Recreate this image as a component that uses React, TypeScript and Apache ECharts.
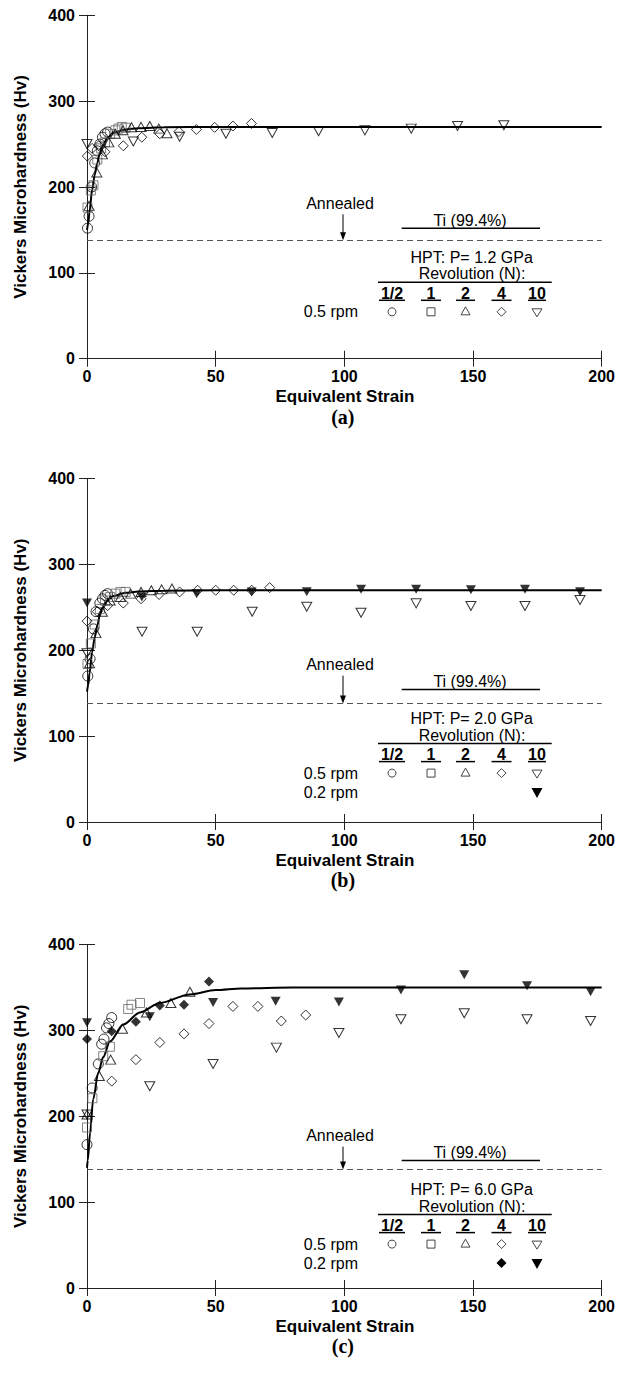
import React, { useEffect, useRef } from "react";
import * as echarts from "echarts";

// ---------- axes ----------
const X_MIN = 0, X_MAX = 200, X_STEP = 50;
const Y_MIN = 0, Y_MAX = 400, Y_STEP = 100;
const ANNEALED_HV = 138;
const PANEL_LABELS = ["(a)", "(b)", "(c)"];
const PRESSURES = ["HPT: P= 1.2 GPa", "HPT: P= 2.0 GPa", "HPT: P= 6.0 GPa"];
const REV_HEADERS = ["1/2", "1", "2", "4", "10"];
const MATERIAL = "Ti (99.4%)";

// ---------- panel (a) P = 1.2 GPa ----------
const aHalf = [[0.2, 152], [0.8, 166], [1.8, 200], [3, 228], [4, 242], [5, 250], [6, 258], [7, 262], [8, 264]];
const aOne = [[0.2, 176], [1.5, 196], [2.5, 202], [4, 232], [5.5, 245], [7, 252], [9, 262], [11, 266], [12.2, 268], [13.5, 270], [15, 269]];
const aTwo = [[0.8, 178], [3.8, 217], [6, 238], [8.5, 252], [11, 262], [14, 266], [17.3, 269.5], [21, 270], [24.4, 271], [27.9, 268], [31.1, 262.5]];
const aFour = [[0.1, 236], [2, 245], [4.5, 248], [7, 241], [14.1, 248], [21.3, 258], [28.3, 262], [35.7, 264.5], [42.5, 267], [49.6, 269.5], [56.7, 271], [63.9, 274]];
const aTen = [[0, 250], [18, 253], [36, 258.6], [54, 262], [72, 263], [90, 265], [108, 266], [126, 268], [144, 271], [162, 272]];
const aFitS = [0, 0.5, 1, 2, 3, 4, 5, 6, 8, 10, 15, 20, 30, 50, 100, 200];
const aFitHv = [150, 158, 172, 197, 214, 228, 240, 248, 257, 263, 267, 268.5, 269.5, 270, 270, 270];

// ---------- panel (b) P = 2.0 GPa ----------
const bHalf = [[0.3, 170], [1.2, 190], [2.5, 225], [3.5, 245], [5, 255], [6, 260], [7, 264], [8, 266]];
const bOne = [[0.2, 184], [1.5, 208], [3, 230], [5, 248], [7, 258], [9, 262], [11, 266], [13, 268], [15, 268]];
const bTwo = [[1, 185], [3.5, 220], [6, 245], [9, 258], [13, 262], [17, 266], [21, 268], [25, 270], [29, 271], [33, 272]];
const bFour = [[0, 234], [4, 245], [8, 252], [14.1, 255], [21, 260], [28, 265], [36, 268], [43, 270], [50, 270], [57, 270], [64, 270], [71, 273]];
const bTen = [[0, 196.5], [21.4, 221.7], [42.8, 221.7], [64.2, 245], [85.4, 250.8], [106.5, 243.8], [127.9, 254.7], [149.2, 251.6], [170.2, 251.6], [191.6, 258.6]];
const bTenSlow = [[0, 255], [21.3, 262], [42.6, 266], [64, 268], [85.4, 268.3], [106.5, 271], [127.9, 271], [149.2, 270.5], [170.2, 271], [191.6, 268.3]];
const bFitS = [0, 0.5, 1, 2, 3, 4, 5, 6, 8, 10, 15, 20, 30, 50, 100, 200];
const bFitHv = [152, 160, 174, 198, 215, 229, 241, 249, 258, 263, 267, 268.5, 269.5, 270, 270, 270];

// ---------- panel (c) P = 6.0 GPa ----------
const cHalf = [[0, 167], [2, 233], [4.4, 261], [5.7, 284], [6.6, 290], [7.6, 303], [8.5, 308], [9.6, 315]];
const cOne = [[0, 187], [2.1, 221], [6.3, 270], [8.9, 281], [16, 325], [17.3, 330], [20.6, 332]];
const cTwo = [[0, 202], [4.8, 247], [9.2, 266], [13.8, 302], [23.1, 321], [32.6, 332], [40, 345]];
const cFour = [[9.6, 241], [19, 266], [28.3, 286], [37.7, 296], [47.4, 308], [56.7, 328], [66.4, 328], [75.5, 311], [85, 318]];
const cTen = [[0, 202], [24.4, 235], [49, 261], [73.6, 280], [97.9, 297], [122, 313], [146.6, 320], [171, 313], [195.7, 311]];
const cFourSlow = [[0, 290], [9.6, 299], [19, 310], [28.3, 329], [37.7, 330], [47.4, 357]];
const cTenSlow = [[0, 309], [24.4, 316], [49, 332.5], [73.3, 334], [97.9, 333], [122, 347], [146.6, 365], [171, 352], [195.7, 345]];
const cFitS = [0, 0.3, 1.2, 2.4, 4.4, 6.3, 8.9, 14.1, 20.6, 28.3, 40, 50, 60, 80, 200];
const cFitHv = [140, 149, 181, 220, 251, 269, 287, 307, 321, 332, 342, 347, 349, 350, 350];

// ---------- layout ----------
const GRID_LEFT = 87;
const GRID_W = 515.7;
const GRID_H = 343.4;
const PANEL_TOPS = [15.3, 478.6, 944.6];
const LEGEND_DY = [2, 0, 5];
const FONT = "Liberation Sans";
const COL_X = [392, 431, 465.5, 501.5, 537];
const COL_HALF = [13, 10, 9.5, 10, 9];

type Pt = number[];
const panels = [
  { half: aHalf, one: aOne, two: aTwo, four: aFour, ten: aTen, fourSlow: null as Pt[] | null, tenSlow: null as Pt[] | null, fitS: aFitS, fitHv: aFitHv },
  { half: bHalf, one: bOne, two: bTwo, four: bFour, ten: bTen, fourSlow: null as Pt[] | null, tenSlow: bTenSlow as Pt[] | null, fitS: bFitS, fitHv: bFitHv },
  { half: cHalf, one: cOne, two: cTwo, four: cFour, ten: cTen, fourSlow: cFourSlow as Pt[] | null, tenSlow: cTenSlow as Pt[] | null, fitS: cFitS, fitHv: cFitHv },
];

const openStyle = (c = "#000") => ({ color: "rgba(0,0,0,0)", borderColor: c, borderWidth: 1 });

function buildOption() {
  const grid: any[] = [];
  const xAxis: any[] = [];
  const yAxis: any[] = [];
  const series: any[] = [];
  const graphic: any[] = [];

  const axisLine = { show: true, lineStyle: { color: "#222", width: 1 } };
  const tick = { show: true, inside: true, length: 8, lineStyle: { color: "#222", width: 1 } };
  const label = { fontFamily: FONT, fontWeight: "bold", fontSize: 16, color: "#000" };

  panels.forEach((p, i) => {
    const T = PANEL_TOPS[i];
    grid.push({ left: GRID_LEFT, top: T, width: GRID_W, height: GRID_H, containLabel: false });
    xAxis.push(
      { gridIndex: i, type: "value", min: X_MIN, max: X_MAX, interval: X_STEP, position: "bottom", axisLine, axisTick: tick, splitLine: { show: false }, axisLabel: { ...label, margin: 10 } },
      { gridIndex: i, type: "value", min: X_MIN, max: X_MAX, interval: X_STEP, position: "top", axisLine, axisTick: tick, splitLine: { show: false }, axisLabel: { show: false } }
    );
    yAxis.push(
      { gridIndex: i, type: "value", min: Y_MIN, max: Y_MAX, interval: Y_STEP, position: "left", axisLine, axisTick: tick, splitLine: { show: false }, axisLabel: { ...label, margin: 12 } },
      { gridIndex: i, type: "value", min: Y_MIN, max: Y_MAX, interval: Y_STEP, position: "right", axisLine, axisTick: tick, splitLine: { show: false }, axisLabel: { show: false } }
    );
    const xi = 2 * i, yi = 2 * i;
    series.push({
      type: "line", xAxisIndex: xi, yAxisIndex: yi, data: p.fitS.map((s, k) => [s, p.fitHv[k]]),
      showSymbol: false, smooth: 0.3, smoothMonotone: "x", lineStyle: { color: "#000", width: 2 }, z: 3,
      markLine: {
        silent: true, symbol: "none", label: { show: false },
        lineStyle: { color: "#555", type: [6, 4], width: 1.2 },
        data: [{ yAxis: ANNEALED_HV }],
      },
    });
    const sc = (data: Pt[], symbol: string, size: any, itemStyle: any, rotate = 0) => ({
      type: "scatter", xAxisIndex: xi, yAxisIndex: yi, data, symbol, symbolSize: size, symbolRotate: rotate, itemStyle, z: 4,
    });
    series.push(sc(p.half, "circle", 10, openStyle()));
    series.push(sc(p.one, "rect", 9, openStyle("#666")));
    series.push(sc(p.two, "triangle", [10, 9], openStyle()));
    series.push(sc(p.four, "diamond", [10, 10], openStyle()));
    series.push(sc(p.ten, "triangle", [10, 9], openStyle(), 180));
    if (p.fourSlow) series.push(sc(p.fourSlow, "diamond", [10, 10], { color: "#000" }));
    if (p.tenSlow) series.push(sc(p.tenSlow, "triangle", [10, 9], { color: "#000" }, 180));

    // ---- annotations ----
    const dy = LEGEND_DY[i];
    const dashY = T + GRID_H - (ANNEALED_HV / Y_MAX) * GRID_H;
    const txt = (x: number, y: number, text: string, opts: any = {}) => ({
      type: "text", x, y, silent: true,
      style: { text, fontFamily: FONT, fontSize: 16, fill: "#000", textAlign: "center", textVerticalAlign: "middle", ...opts },
    });
    const ln = (x1: number, y1: number, x2: number, y2: number, w = 1.2) => ({
      type: "line", silent: true, shape: { x1, y1, x2, y2 }, style: { stroke: "#000", lineWidth: w },
    });
    // axis names & panel label
    graphic.push({
      type: "text", x: 20, y: T + GRID_H / 2, rotation: Math.PI / 2, silent: true,
      style: { text: "Vickers Microhardness (Hv)", fontFamily: FONT, fontWeight: "bold", fontSize: 17, fill: "#000", textAlign: "center", textVerticalAlign: "middle" },
    });
    graphic.push(txt(GRID_LEFT + GRID_W / 2, T + GRID_H + 38, "Equivalent Strain", { fontWeight: "bold", fontSize: 17 }));
    graphic.push(txt(GRID_LEFT + GRID_W / 2 - 2, T + GRID_H + 58, PANEL_LABELS[i], { fontFamily: "Liberation Serif", fontWeight: "bold", fontSize: 20 }));
    // annealed
    graphic.push(txt(340, T + 186 + dy, "Annealed"));
    graphic.push(ln(343, T + 197 + dy, 343, dashY - 5, 1));
    graphic.push({ type: "polygon", silent: true, shape: { points: [[340, dashY - 8], [346, dashY - 8], [343, dashY]] }, style: { fill: "#000" } });
    // material
    graphic.push(txt(470, T + 203 + dy, MATERIAL));
    graphic.push(ln(401.7, T + 211 + dy, 540, T + 211 + dy, 1.5));
    // HPT
    graphic.push(txt(471.7, T + 240 + dy, PRESSURES[i]));
    graphic.push(txt(472, T + 256.5 + dy, "Revolution (N):"));
    graphic.push(ln(378, T + 265 + dy, 551.7, T + 265 + dy, 1.5));
    REV_HEADERS.forEach((h, k) => {
      graphic.push(txt(COL_X[k], T + 276 + dy, h, { fontWeight: "bold" }));
      graphic.push(ln(COL_X[k] - COL_HALF[k], T + 283 + dy, COL_X[k] + COL_HALF[k], T + 283 + dy, 1.5));
    });
    const r1 = T + 294.5 + dy;
    graphic.push(txt(358, r1, "0.5 rpm", { textAlign: "right" }));
    const lg = "#444";
    graphic.push({ type: "circle", silent: true, shape: { cx: COL_X[0], cy: r1, r: 4 }, style: { fill: "none", stroke: lg, lineWidth: 1 } });
    graphic.push({ type: "rect", silent: true, shape: { x: COL_X[1] - 4, y: r1 - 4, width: 8, height: 8 }, style: { fill: "none", stroke: lg, lineWidth: 1 } });
    graphic.push({ type: "polygon", silent: true, shape: { points: [[COL_X[2], r1 - 5], [COL_X[2] + 4.5, r1 + 3], [COL_X[2] - 4.5, r1 + 3]] }, style: { fill: "none", stroke: lg, lineWidth: 1 } });
    graphic.push({ type: "polygon", silent: true, shape: { points: [[COL_X[3], r1 - 4.5], [COL_X[3] + 4.5, r1], [COL_X[3], r1 + 4.5], [COL_X[3] - 4.5, r1]] }, style: { fill: "none", stroke: lg, lineWidth: 1 } });
    graphic.push({ type: "polygon", silent: true, shape: { points: [[COL_X[4] - 5, r1 - 3], [COL_X[4] + 5, r1 - 3], [COL_X[4], r1 + 5]] }, style: { fill: "none", stroke: lg, lineWidth: 1 } });
    if (p.tenSlow) {
      const r2 = T + 313.5 + dy;
      graphic.push(txt(358, r2, "0.2 rpm", { textAlign: "right" }));
      graphic.push({ type: "polygon", silent: true, shape: { points: [[COL_X[4] - 5.5, r2 - 4], [COL_X[4] + 5.5, r2 - 4], [COL_X[4], r2 + 6]] }, style: { fill: "#000" } });
      if (p.fourSlow) {
        graphic.push({ type: "polygon", silent: true, shape: { points: [[COL_X[3], r2 - 5], [COL_X[3] + 5, r2], [COL_X[3], r2 + 5], [COL_X[3] - 5, r2]] }, style: { fill: "#000" } });
      }
    }
  });

  return { animation: false, backgroundColor: "#fff", grid, xAxis, yAxis, series, graphic };
}

export default function App() {
  const ref = useRef<HTMLDivElement>(null);
  useEffect(() => {
    if (!ref.current) return;
    const chart = echarts.init(ref.current, null, { renderer: "svg" });
    chart.setOption(buildOption() as any);
    return () => chart.dispose();
  }, []);
  return <div ref={ref} style={{ position: "absolute", left: 0, top: 0, width: 618, height: 1386, background: "#fff" }} />;
}
